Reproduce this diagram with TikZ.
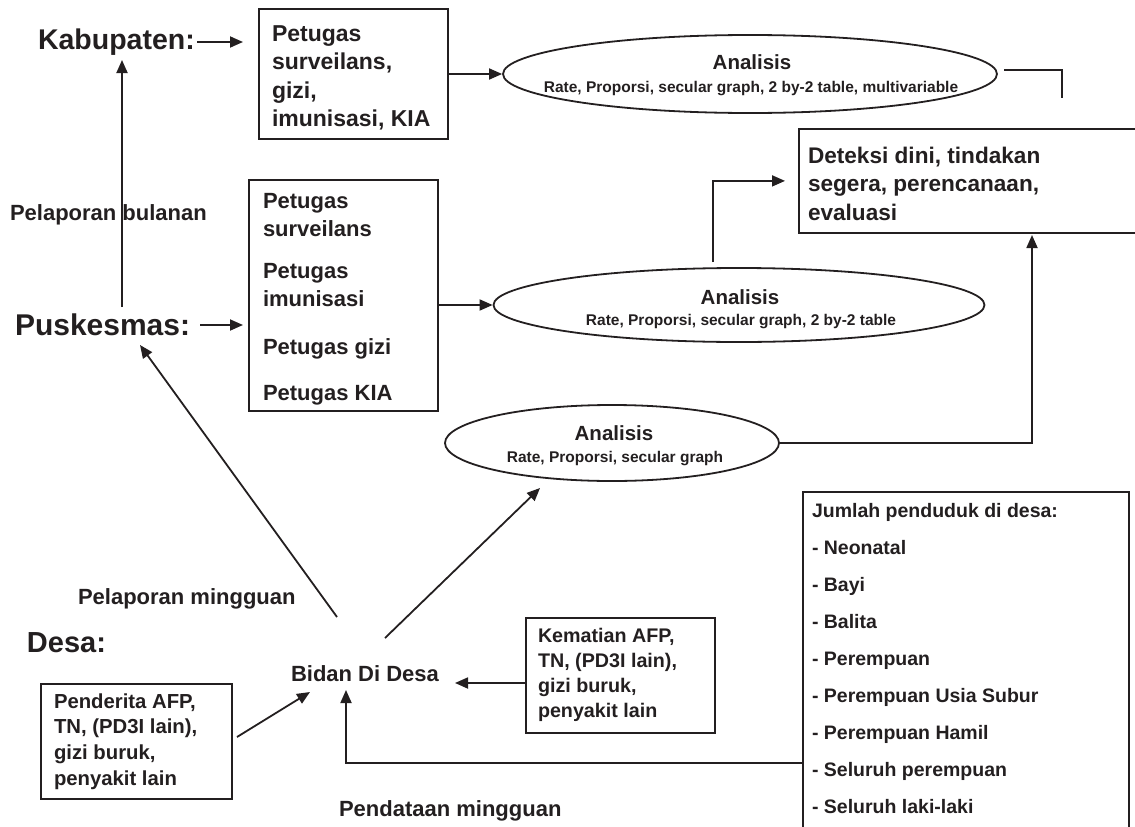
\documentclass[tikz,border=0pt]{standalone}
\usepackage{fontspec}
\setmainfont{Liberation Sans}
\usetikzlibrary{arrows.meta,shapes.geometric}
\definecolor{ink}{HTML}{231F20}
\newcommand\fz[2]{\fontsize{#1}{#2}\selectfont\bfseries}
\begin{document}
\begin{tikzpicture}[x=1pt,y=-1pt,
  every node/.style={text=ink},
  frame/.style={draw=ink, line width=1.8pt, rectangle, inner sep=0pt, anchor=north west},
  lbl/.style={inner sep=0pt, outer sep=0pt, anchor=base west},
  mid/.style={inner sep=0pt, outer sep=0pt, anchor=base},
  oval/.style={draw=ink, ellipse, line width=1.8pt, inner sep=0pt},
  wire/.style={draw=ink, line width=1.8pt},
  conn/.style={wire, -{Triangle[length=13pt,width=11pt]}},
]
\useasboundingbox (0,0) rectangle (1135,827);
\clip (0,0) rectangle (1135,827);

% ---- level labels ----
\node[lbl] (kab)  at (38,49)  {\fz{28.5}{32}Kabupaten:};
\node[lbl] (pusk) at (15,335) {\fz{30}{34}Puskesmas:};
\node[lbl] (desa) at (27,652) {\fz{29}{33}Desa:};
\node[lbl] (bul)  at (10,220) {\fz{22}{26}Pelaporan bulanan};
\node[lbl] (ming) at (78,604) {\fz{22}{26}Pelaporan mingguan};
\node[lbl] (pdt)  at (339,816) {\fz{22}{26}Pendataan mingguan};
\node[lbl] (bidan) at (291,681) {\fz{22}{26}Bidan Di Desa};

% ---- boxes ----
\node[frame, minimum width=189pt, minimum height=130pt] (b1) at (258,8) {};
\node[lbl] (b1txt) at (272,41) {\vtop{\fz{23}{28.5}\hbox{Petugas}\hbox{surveilans,}\hbox{gizi,}\hbox{imunisasi, KIA}}};

\node[frame, minimum width=189pt, minimum height=231pt] (b2) at (248,179) {};
\node[lbl] (b2txt) at (263,208) {\vtop{\fz{22}{28}\hbox{Petugas}\hbox{surveilans}\vskip14pt
  \hbox{Petugas}\hbox{imunisasi}\vskip20pt\hbox{Petugas gizi}\vskip18pt\hbox{Petugas KIA}}};

\node[frame, minimum width=360pt, minimum height=104pt] (det) at (798,128) {};
\node[lbl] (dettxt) at (808,163) {\vtop{\fz{22.6}{28.5}\hbox{Deteksi dini, tindakan}\hbox{segera, perencanaan,}\hbox{evaluasi}}};

\node[frame, minimum width=189pt, minimum height=115pt] (kem) at (525,617) {};
\node[lbl] (kemtxt) at (538,642) {\vtop{\fz{19.7}{25}\hbox{Kematian AFP,}\hbox{TN, (PD3I lain),}\hbox{gizi buruk,}\hbox{penyakit lain}}};

\node[frame, minimum width=191pt, minimum height=115pt] (pdr) at (40,683) {};
\node[lbl] (pdrtxt) at (54,708) {\vtop{\fz{20.3}{25.7}\hbox{Penderita AFP,}\hbox{TN, (PD3I lain),}\hbox{gizi buruk,}\hbox{penyakit lain}}};

\node[frame, minimum width=326pt, minimum height=360pt] (jum) at (802,491) {};
\node[lbl] (jumtxt) at (812,517) {\vtop{\fz{19.5}{37}\hbox{Jumlah penduduk di desa:}\hbox{- Neonatal}\hbox{- Bayi}\hbox{- Balita}
  \hbox{- Perempuan}\hbox{- Perempuan Usia Subur}\hbox{- Perempuan Hamil}\hbox{- Seluruh perempuan}\hbox{- Seluruh laki-laki}}};

% ---- analysis ellipses ----
\node[oval, minimum width=494pt, minimum height=78pt] (e1) at (750,74) {};
\node[mid] (e1a) at (752,69)   {\fz{20.5}{24}Analisis};
\node[mid] (e1b) at (751,92.5) {\fz{15.5}{18}Rate, Proporsi, secular graph, 2 by-2 table, multivariable};

\node[oval, minimum width=491pt, minimum height=74pt] (e2) at (739,305) {};
\node[mid] (e2a) at (740,304)   {\fz{20.5}{24}Analisis};
\node[mid] (e2b) at (741,325.5) {\fz{15.5}{18}Rate, Proporsi, secular graph, 2 by-2 table};

\node[oval, minimum width=334pt, minimum height=76pt] (e3) at (612,443) {};
\node[mid] (e3a) at (614,440)   {\fz{20.5}{24}Analisis};
\node[mid] (e3b) at (615,462.5) {\fz{15.5}{18}Rate, Proporsi, secular graph};

% ---- connector end points ----
\coordinate (kabA) at (197,42);   \coordinate (kabB) at (243,42);
\coordinate (puskA) at (200,325); \coordinate (puskB) at (243,325);
\coordinate (upA) at (122,307);   \coordinate (upB) at (122,60);
\coordinate (brkA) at (1004,70);  \coordinate (brkB) at (1062,98);
\coordinate (e2top) at (713,262);
\coordinate (detbot) at (1032,235);
\coordinate (bidNW) at (337,617); \coordinate (puskS) at (140,345);
\coordinate (bidNE) at (385,638); \coordinate (e3SW) at (540,488);
\coordinate (bidE) at (455,683);
\coordinate (pdrNE) at (237,737); \coordinate (bidSW) at (310,692);
\coordinate (jumL) at (802,763);  \coordinate (bidS) at (346,690);

% ---- connectors ----
\draw[conn] (kabA) -- (kabB);
\draw[conn] (puskA) -- (puskB);
\draw[conn] (upA) -- (upB);
\draw[conn] (b1.east |- e1.west) -- (e1.west);
\draw[conn] (b2.east |- e2.west) -- (e2.west);
\draw[wire] (brkA) -| (brkB);
\draw[conn, shorten >=13pt] (e2top) |- (det.west);
\draw[conn] (e3.east) -| (detbot);
\draw[conn] (bidNW) -- (puskS);
\draw[conn] (bidNE) -- (e3SW);
\draw[conn] (kem.west |- bidE) -- (bidE);
\draw[conn] (pdrNE) -- (bidSW);
\draw[conn] (jumL) -| (bidS);
\end{tikzpicture}
\end{document}
